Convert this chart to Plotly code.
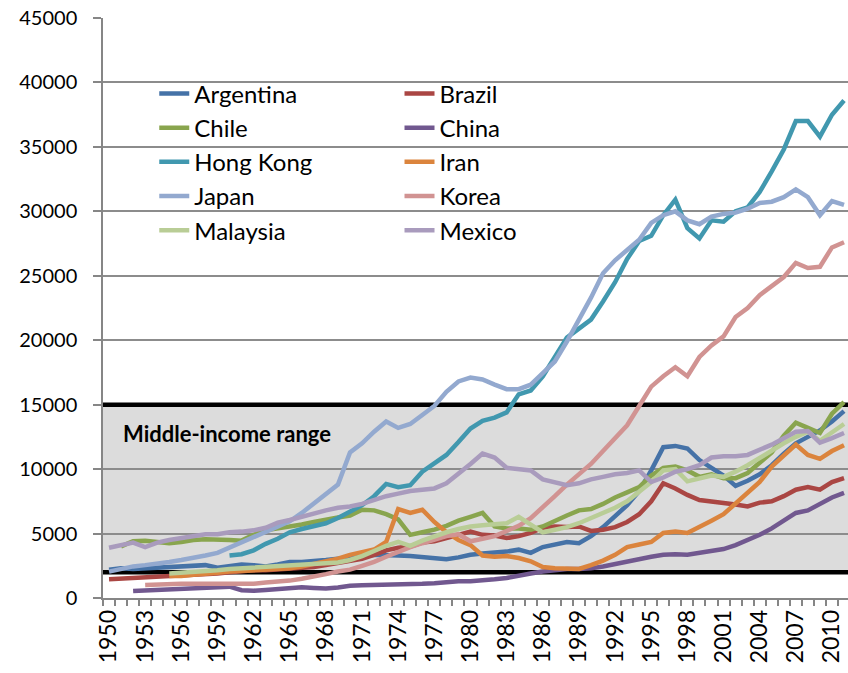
import plotly.graph_objects as go

years = list(range(1950, 2012))
tick_years = list(range(1950, 2011, 3))
tick_labels = [str(y) for y in tick_years]

N = None
argentina = [2200, 2300, 2250, 2300, 2350, 2450, 2450, 2500, 2550, 2350,
             2450, 2600, 2550, 2450, 2600, 2800, 2800, 2850, 2950, 3050,
             3100, 3200, 3350, 3350, 3300, 3250, 3150, 3050, 3000, 3150,
             3350, 3450, 3500, 3600, 3750, 3500, 3950, 4150, 4350, 4250,
             4800, 5500, 6300, 7200, 8300, 9900, 11700, 11800, 11600, 10700,
             10100, 9500, 8700, 9100, 9600, 10300, 11200, 12000, 12500, 13000,
             13700, 14500]
brazil = [1450, 1500, 1550, 1550, 1650, 1700, 1700, 1800, 1850, 1900,
          2000, 2100, 2150, 2150, 2200, 2250, 2300, 2400, 2550, 2700,
          2850, 3050, 3350, 3700, 3900, 4000, 4300, 4400, 4650, 4900,
          5150, 4900, 4850, 4650, 4800, 5050, 5450, 5550, 5500, 5550,
          5200, 5300, 5500, 5900, 6500, 7500, 8900, 8500, 8000, 7600,
          7500, 7400, 7250, 7100, 7400, 7500, 7900, 8400, 8600, 8400,
          9000, 9300]
chile = [N, 4000, 4400, 4450, 4350, 4250, 4350, 4500, 4550, 4550,
         4500, 4450, 4900, 5250, 5400, 5500, 5700, 5900, 6100, 6250,
         6400, 6850, 6800, 6500, 6100, 4900, 5100, 5300, 5600, 6000,
         6300, 6600, 5550, 5400, 5400, 5300, 5550, 6000, 6400, 6800,
         6900, 7300, 7800, 8200, 8600, 9500, 10100, 10200, 9900, 9400,
         9600, 9300, 9300, 9700, 10500, 11300, 12600, 13600, 13200, 12800,
         14300, 15200]
china = [N, N, 550, 600, 620, 660, 720, 750, 850, 900,
         880, 600, 560, 620, 700, 780, 830, 780, 730, 820,
         950, 980, 990, 1050, 1050, 1100, 1100, 1150, 1250, 1300,
         1300, 1350, 1450, 1550, 1750, 1900, 2050, 2150, 2250, 2250,
         2300, 2450, 2650, 2850, 3050, 3200, 3350, 3400, 3350, 3500,
         3650, 3800, 4100, 4500, 4900, 5400, 6000, 6600, 6800, 7300,
         7800, 8150]
hong_kong = [N, N, N, N, N, N, N, N, N, N,
             3300, 3400, 3700, 4200, 4600, 5100, 5350, 5550, 5800, 6200,
             6700, 7200, 7900, 8850, 8600, 8750, 9800, 10450, 11100, 12100,
             13150, 13750, 14000, 14400, 15800, 16100, 17200, 18700, 20200, 20900,
             21600, 23000, 24500, 26300, 27700, 28100, 29700, 30900, 28700, 27900,
             29300, 29200, 30000, 30300, 31500, 33100, 34800, 37000, 37000, 35800,
             37500, 38600]
iran = [N, N, N, N, N, 1700, 1700, 1800, 1850, 1950,
        2050, 2100, 2150, 2200, 2250, 2300, 2450, 2650, 2800, 3050,
        3350, 3550, 3760, 4350, 6900, 6600, 6850, 5900, 5100, 4500,
        4100, 3300, 3200, 3250, 3100, 2850, 2400, 2300, 2250, 2250,
        2550, 2900, 3350, 3950, 4150, 4350, 5050, 5150, 5050, 5500,
        6000, 6500, 7300, 8100, 9000, 10200, 11100, 11900, 11100, 10800,
        11400, 11850]
japan = [2050, 2250, 2450, 2550, 2650, 2800, 2950, 3100, 3300, 3500,
         3900, 4350, 4750, 5150, 5550, 5950, 6600, 7300, 8100, 8800,
         11300, 12000, 12900, 13700, 13200, 13500, 14200, 14900, 16000, 16800,
         17100, 16950, 16550, 16200, 16200, 16550, 17450, 18350, 19900, 21600,
         23300, 25200, 26200, 27000, 27800, 29100, 29700, 30000, 29300, 29000,
         29600, 29800, 29900, 30200, 30650, 30750, 31100, 31700, 31100, 29700,
         30800, 30500]
korea = [N, N, N, 1000, 1050, 1050, 1100, 1100, 1100, 1150,
         1150, 1100, 1100, 1200, 1250, 1350, 1500, 1650, 1850, 2050,
         2200, 2500, 2800, 3200, 3600, 3950, 4250, 4550, 4800, 4950,
         4400, 4600, 4800, 5200, 5600, 6200, 7000, 7900, 8800, 9600,
         10400, 11400, 12400, 13400, 14900, 16400, 17200, 17900, 17200, 18700,
         19600, 20300, 21800, 22500, 23500, 24200, 24900, 26000, 25600, 25700,
         27200, 27600]
malaysia = [N, N, N, N, N, 1900, 1950, 2000, 2100, 2150,
            2250, 2300, 2350, 2400, 2450, 2550, 2600, 2600, 2650, 2750,
            2950, 3250, 3650, 4050, 4350, 4050, 4450, 4800, 5100, 5350,
            5550, 5650, 5700, 5800, 6300, 5700, 5100, 5300, 5500, 5800,
            6200, 6600, 7000, 7500, 8200, 9000, 9900, 10000, 9050, 9300,
            9500, 9400, 9800, 10300, 10900, 11500, 12000, 12500, 12900, 12200,
            12800, 13500]
mexico = [3900, 4100, 4300, 3950, 4300, 4500, 4650, 4850, 4950, 4950,
          5100, 5150, 5250, 5450, 5850, 6050, 6300, 6600, 6800, 7000,
          7100, 7300, 7600, 7900, 8100, 8300, 8400, 8500, 8900, 9600,
          10400, 11200, 10900, 10100, 10000, 9900, 9200, 9000, 8750, 8900,
          9200, 9400, 9600, 9700, 9900, 9000, 9350, 9800, 10000, 10300,
          10900, 11000, 11000, 11100, 11500, 11900, 12400, 12900, 12950, 12050,
          12400, 12800]

band_low = 2000
band_high = 15000
band_label = "Middle-income range"

col1 = [("Argentina", argentina, "#4572A7"),
        ("Chile", chile, "#89A54E"),
        ("Hong Kong", hong_kong, "#4198AF"),
        ("Japan", japan, "#93A9CF"),
        ("Malaysia", malaysia, "#B9CD96")]
col2 = [("Brazil", brazil, "#AA4643"),
        ("China", china, "#71588F"),
        ("Iran", iran, "#DB843D"),
        ("Korea", korea, "#D19392"),
        ("Mexico", mexico, "#A99BBD")]

order = ["Argentina", "Brazil", "Chile", "China", "Hong Kong",
         "Iran", "Japan", "Korea", "Malaysia", "Mexico"]
lookup = {}
for name, vals, color in col1:
    lookup[name] = (vals, color, "legend")
for name, vals, color in col2:
    lookup[name] = (vals, color, "legend2")

FONT = "Lato, Carlito, 'Liberation Sans', sans-serif"

fig = go.Figure()

# band boundaries drawn as the first (bottom-most) traces, above gridlines
edge_x = [years[0] - 1, years[-1] + 1]
for yv in (band_low, band_high):
    fig.add_trace(go.Scatter(
        x=edge_x, y=[yv, yv], mode="lines", showlegend=False,
        hoverinfo="skip", line=dict(color="black", width=4.5),
    ))

for name in order:
    vals, color, leg = lookup[name]
    fig.add_trace(go.Scatter(
        x=years, y=vals, name=name, mode="lines",
        line=dict(color=color, width=4.5),
        legend=leg, connectgaps=False,
    ))

fig.add_shape(type="rect", xref="paper", yref="y", x0=0, x1=1,
              y0=band_low, y1=band_high, fillcolor="#DCDCDC",
              line=dict(width=0), layer="below")

fig.add_annotation(xref="paper", yref="y", x=0.0245, y=12750,
                   text="<b>" + band_label + "</b>", showarrow=False,
                   xanchor="left", yanchor="middle",
                   font=dict(family=FONT, size=22, color="black"))

legend_common = dict(
    bgcolor="rgba(0,0,0,0)", borderwidth=0,
    font=dict(family=FONT, size=24, color="black"),
    orientation="v", yanchor="top", xanchor="left",
    traceorder="normal", itemclick=False, itemdoubleclick=False,
)

fig.update_layout(
    width=848, height=673,
    margin=dict(l=103, r=0, t=18, b=75),
    paper_bgcolor="white", plot_bgcolor="white",
    font=dict(family=FONT, color="black"),
    showlegend=True,
    legend=dict(x=0.0688, y=0.908, **legend_common),
    legend2=dict(x=0.398, y=0.908, **legend_common),
    xaxis=dict(
        range=[1949.5, 2011.33], tickmode="array", automargin=False,
        tickvals=tick_years, ticktext=tick_labels,
        tickangle=-90, ticks="", showgrid=False, zeroline=False,
        showline=True, linecolor="#868686", linewidth=1.5,
        tickfont=dict(family=FONT, size=23, color="black"),
        ticklabelstandoff=1,
        minor=dict(tickmode="linear", tick0=1949.5, dtick=1,
                   ticks="outside", ticklen=6, tickcolor="#868686",
                   tickwidth=1.5, showgrid=False),
    ),
    yaxis=dict(
        range=[0, 45000], tickmode="linear", tick0=0, dtick=5000,
        tickformat="d", automargin=False,
        showgrid=True, gridcolor="#8C8C8C", gridwidth=1.5,
        zeroline=False, showline=True, linecolor="#868686", linewidth=1.5,
        ticks="outside", ticklen=8, tickcolor="#868686", tickwidth=1.5,
        tickfont=dict(family=FONT, size=20, color="black"),
        ticklabelstandoff=12,
    ),
)

fig.write_html("out.html", config={"displayModeBar": False},
               post_script="document.body.style.margin='0';")
